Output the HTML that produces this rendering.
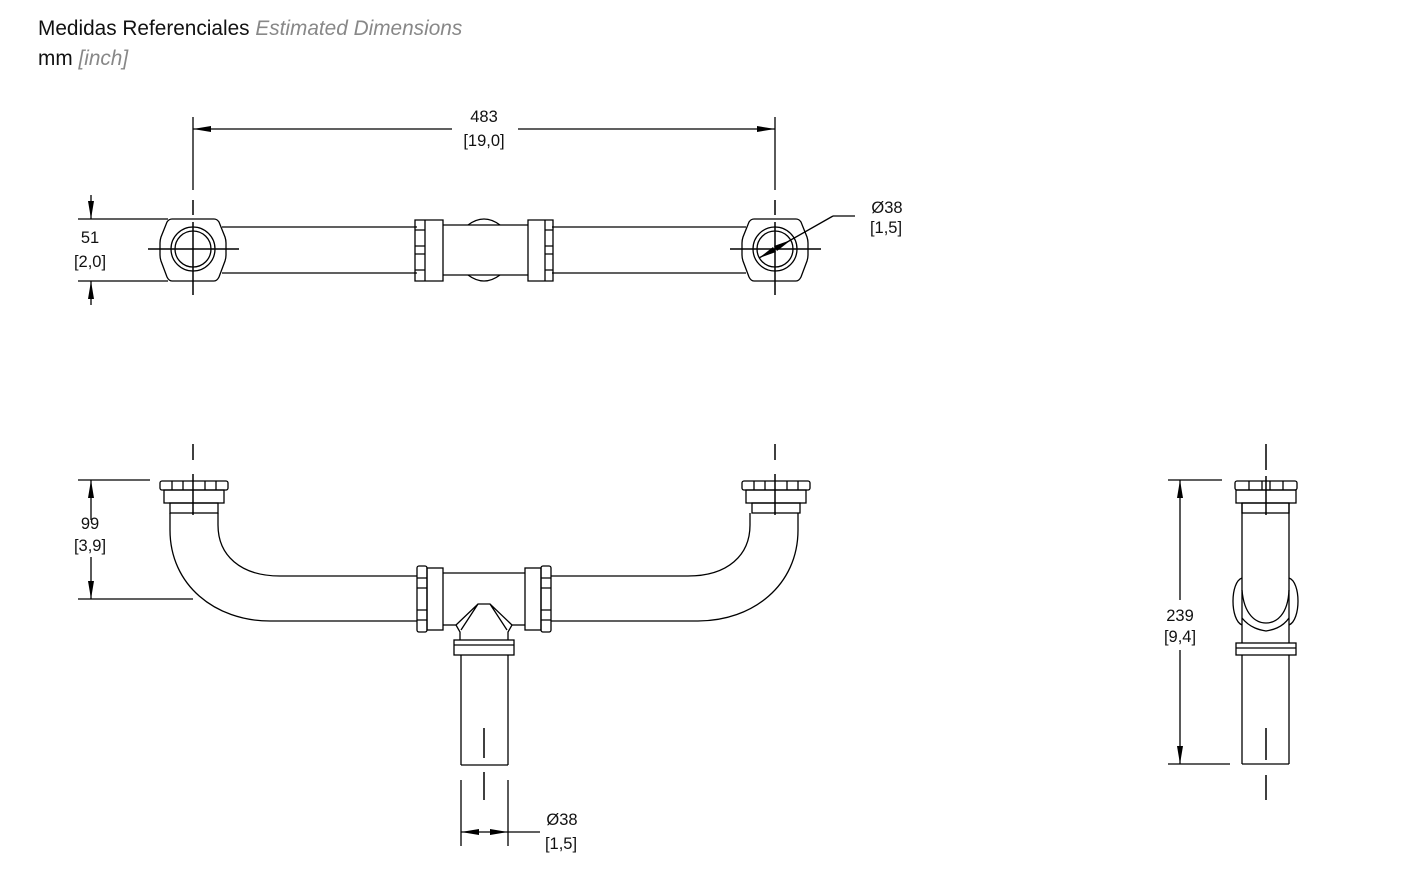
<!DOCTYPE html>
<html><head><meta charset="utf-8"><style>
html,body{margin:0;padding:0;background:#fff;width:1424px;height:872px;overflow:hidden}
svg{display:block}
text{font-family:"Liberation Sans",Arial,sans-serif}
</style></head><body>
<svg width="1424" height="872" viewBox="0 0 1424 872" xmlns="http://www.w3.org/2000/svg">
<text x="38" y="35" font-size="20.8" fill="#111">Medidas Referenciales <tspan font-style="italic" fill="#888">Estimated Dimensions</tspan></text>
<text x="38" y="65" font-size="20.8" fill="#111">mm <tspan font-style="italic" fill="#888">[inch]</tspan></text>

<g fill="#000" stroke="none">
<polygon points="193,129 211,126 211,132"/><polygon points="775,129 757,126 757,132"/>
<polygon points="91,219 88,201 94,201"/><polygon points="91,281 88,299 94,299"/>
<polygon points="91,480 88,498 94,498"/><polygon points="91,599 88,581 94,581"/>
<polygon points="1180,480 1177,498 1183,498"/><polygon points="1180,764 1177,746 1183,746"/>
<polygon points="461,832 479,829 479,835"/><polygon points="508,832 490,829 490,835"/>
<polygon points="759,258 773,247 776,252"/><polygon points="791,240 777,251 774,246"/>
</g>

<g stroke="#000" fill="none" stroke-width="1.3">
<line x1="193" y1="117" x2="193" y2="190"/><line x1="775" y1="117" x2="775" y2="190"/>
<line x1="193" y1="129" x2="452" y2="129"/><line x1="518" y1="129" x2="775" y2="129"/>
<line x1="78" y1="219" x2="168" y2="219"/><line x1="78" y1="281" x2="168" y2="281"/>
<line x1="91" y1="195" x2="91" y2="219"/><line x1="91" y1="305" x2="91" y2="281"/>
<line x1="222" y1="227" x2="417" y2="227"/><line x1="222" y1="273" x2="417" y2="273"/>
<line x1="552" y1="227" x2="746" y2="227"/><line x1="552" y1="273" x2="746" y2="273"/>
<g id="hx">
<path d="M172,219 L214,219 Q217,219 219,222 L225,237 Q226,240 226,243 L226,255 Q226,258 225,261 L219,277 Q217,281 214,281 L172,281 Q169,281 167,277 L161,261 Q160,258 160,255 L160,243 Q160,240 161,237 L167,222 Q169,219 172,219 Z"/>
<circle cx="193" cy="249" r="22"/><circle cx="193" cy="249" r="18"/>
</g>
<use href="#hx" transform="translate(582,0)"/>
<g stroke-width="1.5">
<line x1="193" y1="200" x2="193" y2="215"/><line x1="193" y1="222" x2="193" y2="295"/>
<line x1="148" y1="249" x2="239" y2="249"/>
<line x1="775" y1="200" x2="775" y2="215"/><line x1="775" y1="222" x2="775" y2="295"/>
<line x1="730" y1="249" x2="821" y2="249"/>
</g>
<path d="M415,220 h10 v61 h-10 z M425,220 h18 v61 h-18 z M415,230 h10 M415,270 h10 M415,246 h10 M415,254 h10"/>
<path d="M528,220 h17 v61 h-17 z M545,220 h8 v61 h-8 z M545,230 h8 M545,270 h8 M545,246 h8 M545,254 h8"/>
<line x1="443" y1="225" x2="528" y2="225"/><line x1="443" y1="275" x2="528" y2="275"/>
<path d="M468,225 Q484,213 500,225"/><path d="M468,275 Q484,287 500,275"/>
<line x1="833" y1="216" x2="759" y2="258"/>
<line x1="833" y1="216" x2="855" y2="216"/>

<g stroke-width="1.5"><line x1="193" y1="444" x2="193" y2="460"/><line x1="193" y1="474" x2="193" y2="515"/>
<line x1="775" y1="444" x2="775" y2="460"/><line x1="775" y1="474" x2="775" y2="515"/></g>
<line x1="78" y1="480" x2="150" y2="480"/><line x1="78" y1="599" x2="193" y2="599"/>
<line x1="91" y1="520" x2="91" y2="480"/><line x1="91" y1="557" x2="91" y2="599"/>
<g id="cap">
<rect x="160" y="481" width="68" height="9" rx="2"/>
<rect x="164" y="490" width="60" height="13"/>
<rect x="170" y="503" width="48" height="10"/>
<line x1="172" y1="481" x2="172" y2="490"/><line x1="183" y1="481" x2="183" y2="490"/><line x1="205" y1="481" x2="205" y2="490"/><line x1="216" y1="481" x2="216" y2="490"/>
</g>
<use href="#cap" transform="translate(582,0)"/>
<path d="M170,513 L170,530 C170,585 215,621 270,621 L417,621"/>
<path d="M218,513 L218,525 C218,555 240,576 280,576 L417,576"/>
<path d="M798,513 L798,530 C798,585 753,621 698,621 L551,621"/>
<path d="M750,513 L750,525 C750,555 728,576 688,576 L551,576"/>
<rect x="417" y="566" width="10" height="66" rx="2"/><rect x="427" y="568" width="16" height="62"/>
<path d="M417,578 h10 M417,588 h10 M417,610 h10 M417,620 h10"/>
<rect x="541" y="566" width="10" height="66" rx="2"/><rect x="525" y="568" width="16" height="62"/>
<path d="M541,578 h10 M541,588 h10 M541,610 h10 M541,620 h10"/>
<line x1="443" y1="573" x2="525" y2="573"/>
<line x1="443" y1="625" x2="456" y2="625"/><line x1="512" y1="625" x2="525" y2="625"/>
<path d="M456,625 L478,604 L490,604 L512,625 L508,632 L508,640 M456,625 L460,632 L460,640 M478,604 L461,630 M490,604 L507,630"/>
<rect x="454" y="640" width="60" height="15"/><line x1="454" y1="645" x2="514" y2="645"/>
<line x1="461" y1="655" x2="461" y2="765"/><line x1="508" y1="655" x2="508" y2="765"/><line x1="461" y1="765" x2="508" y2="765"/>
<g stroke-width="1.5"><line x1="484" y1="728" x2="484" y2="758"/><line x1="484" y1="772" x2="484" y2="800"/></g>
<line x1="461" y1="780" x2="461" y2="846"/><line x1="508" y1="780" x2="508" y2="846"/>
<line x1="461" y1="832" x2="540" y2="832"/>

<line x1="1168" y1="480" x2="1222" y2="480"/><line x1="1168" y1="764" x2="1230" y2="764"/>
<line x1="1180" y1="600" x2="1180" y2="480"/><line x1="1180" y1="650" x2="1180" y2="764"/>
<rect x="1235" y="481" width="62" height="9" rx="2"/><rect x="1236" y="490" width="60" height="13"/>
<path d="M1249,481 v9 M1262,481 v9 M1270,481 v9 M1283,481 v9"/>
<line x1="1242" y1="503" x2="1242" y2="643"/><line x1="1289" y1="503" x2="1289" y2="643"/>
<rect x="1242" y="503" width="47" height="10"/>
<path d="M1242,578 C1230,582 1230,620 1242,625 M1289,578 C1301,582 1301,620 1289,625"/>
<path d="M1242,590 C1244,615 1256,623 1266,623 C1276,623 1288,615 1289,590"/>
<path d="M1242,618 C1250,628 1260,630 1266,631 C1272,630 1282,628 1289,618"/>
<rect x="1236" y="643" width="60" height="12"/><line x1="1236" y1="648" x2="1296" y2="648"/>
<line x1="1242" y1="655" x2="1242" y2="764"/><line x1="1289" y1="655" x2="1289" y2="764"/><line x1="1242" y1="764" x2="1289" y2="764"/>
<g stroke-width="1.5"><line x1="1266" y1="444" x2="1266" y2="470"/><line x1="1266" y1="476" x2="1266" y2="515"/>
<line x1="1266" y1="728" x2="1266" y2="760"/><line x1="1266" y1="775" x2="1266" y2="800"/></g>
</g>

<g font-size="16.5" fill="#111" text-anchor="middle">
<text x="484" y="122">483</text><text x="484" y="146">[19,0]</text>
<text x="90" y="243">51</text><text x="90" y="267">[2,0]</text>
<text x="887" y="213">Ø38</text><text x="886" y="233">[1,5]</text>
<text x="90" y="529">99</text><text x="90" y="551">[3,9]</text>
<text x="562" y="825">Ø38</text><text x="561" y="849">[1,5]</text>
<text x="1180" y="621">239</text><text x="1180" y="642">[9,4]</text>
</g>
</svg>
</body></html>
